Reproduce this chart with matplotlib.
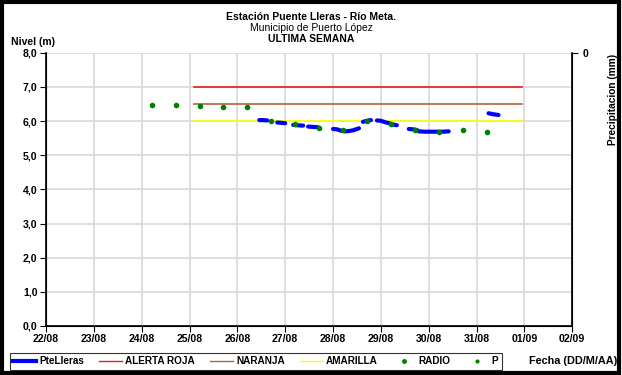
import numpy as np
import pandas as pd
import matplotlib
matplotlib.use("Agg")
import matplotlib.pyplot as plt
import matplotlib.dates as mdates
from matplotlib.lines import Line2D

plt.rcParams['font.family'] = ['Liberation Sans', 'DejaVu Sans']

ANIO = "2014"

# nivel telemetrico PteLleras (None / NaN = hueco en los datos)
tiempos_nivel = [
    "26/08 11:00", "26/08 13:00", "26/08 15:00", None,
    "26/08 20:00", "26/08 22:00", "27/08 00:00", None,
    "27/08 04:00", "27/08 06:00", "27/08 08:00", "27/08 09:00", None,
    "27/08 11:30", "27/08 14:00", "27/08 16:30", None,
    "28/08 00:00", "28/08 02:00", "28/08 04:00", "28/08 06:00", "28/08 08:00",
    "28/08 10:00", "28/08 12:00", "28/08 13:00", None,
    "28/08 15:00", "28/08 17:00", "28/08 19:00", None,
    "28/08 22:00", "29/08 00:00", "29/08 02:00", "29/08 04:00", "29/08 06:00",
    "29/08 08:00", None,
    "29/08 14:00", "29/08 16:00", "29/08 18:00", "29/08 19:00", "29/08 22:00",
    "30/08 01:00", "30/08 04:00", "30/08 07:00", "30/08 10:00", None,
    "31/08 06:00", "31/08 08:30", "31/08 11:00",
]
nivel = [
    6.03, 6.03, 6.02, np.nan,
    5.96, 5.95, 5.94, np.nan,
    5.89, 5.88, 5.87, 5.87, np.nan,
    5.84, 5.83, 5.82, np.nan,
    5.77, 5.76, 5.72, 5.70, 5.71, 5.73, 5.77, 5.79, np.nan,
    5.98, 6.01, 6.03, np.nan,
    6.02, 6.01, 5.97, 5.94, 5.90, 5.88, np.nan,
    5.77, 5.76, 5.74, 5.70, 5.69, 5.69, 5.69, 5.69, 5.70, np.nan,
    6.23, 6.20, 6.18,
]

# lecturas por radio
tiempos_radio = [
    "24/08 05:00", "24/08 17:00", "25/08 05:00", "25/08 17:00", "26/08 05:00",
    "26/08 17:00", "27/08 05:00", "27/08 17:00", "28/08 05:00", "28/08 17:00",
    "29/08 05:00", "29/08 17:00", "30/08 05:00", "30/08 17:00", "31/08 05:00",
]
radio = [6.48, 6.46, 6.44, 6.40, 6.40, 6.00, 5.91, 5.81, 5.73, 6.00,
         5.93, 5.74, 5.67, 5.74, 5.68]

# umbrales de alerta
tiempos_umbral = ["25/08 02:00", "31/08 23:00"]
alerta_roja = [7.0, 7.0]
naranja = [6.5, 6.5]
amarilla = [6.0, 6.0]

dias_eje = ["22/08", "23/08", "24/08", "25/08", "26/08", "27/08",
            "28/08", "29/08", "30/08", "31/08", "01/09", "02/09"]


def a_fecha(lista):
    return [pd.NaT if t is None else pd.to_datetime(t + "/" + ANIO, format="%d/%m %H:%M/%Y")
            for t in lista]


def a_dia(lista):
    return [pd.to_datetime(d + "/" + ANIO, format="%d/%m/%Y") for d in lista]


t_nivel = a_fecha(tiempos_nivel)
t_nivel = [t if not pd.isna(t) else t_nivel[i - 1] for i, t in enumerate(t_nivel)]
t_radio = a_fecha(tiempos_radio)
t_umbral = a_fecha(tiempos_umbral)
ticks = a_dia(dias_eje)

fig = plt.figure(figsize=(6.22, 3.75), dpi=100)
ax = fig.add_axes([0.074, 0.131, 0.846, 0.728])

ax.plot(t_umbral, alerta_roja, color='#ee1c1c', lw=1.2)
ax.plot(t_umbral, naranja, color='#b0663a', lw=1.2)
ax.plot(t_umbral, amarilla, color='#ffff00', lw=1.2)
ax.plot(t_nivel, nivel, color='#0000ff', lw=3, solid_capstyle='round')
ax.plot(t_radio, radio, 'o', color='#008000', ms=3, ls='none')

ax.set_ylim(0, 8)
ax.set_yticks(np.arange(0, 9, 1))
ax.set_yticklabels([f"{v:.1f}".replace('.', ',') for v in range(9)])
ax.set_xlim(ticks[0], ticks[-1])
ax.set_xticks(ticks)
ax.xaxis.set_major_formatter(mdates.DateFormatter('%d/%m'))
ax.grid(True, color='#d9d9d9', lw=1.2)
ax.set_axisbelow(True)
ax.spines['top'].set_visible(False)
ax.spines['left'].set_linewidth(1.2)
ax.spines['bottom'].set_linewidth(1.2)
ax.tick_params(axis='both', labelsize=7.6, length=4, width=0.8, pad=2)
for lab in ax.get_xticklabels() + ax.get_yticklabels():
    lab.set_fontweight('bold')

ax2 = ax.twinx()
ax2.plot([], [], 'o', color='#008000', ms=2)
ax2.set_ylim(1, 0)
ax2.set_yticks([0])
ax2.spines['top'].set_visible(False)
ax2.spines['right'].set_linewidth(1.2)
ax2.tick_params(axis='y', labelsize=7.6, length=4, width=0.8)
for lab in ax2.get_yticklabels():
    lab.set_fontweight('bold')

fig.text(0.5, 0.955, "Estación Puente Lleras - Río Meta.", ha='center', va='center',
         fontsize=7.5, fontweight='bold')
fig.text(0.5, 0.925, "Municipio de Puerto López", ha='center', va='center', fontsize=7.5)
fig.text(0.5, 0.897, "ULTIMA SEMANA", ha='center', va='center', fontsize=7.5,
         fontweight='bold')
fig.text(0.018, 0.888, "Nivel (m)", ha='left', va='center', fontsize=7.5, fontweight='bold')
fig.text(0.985, 0.735, "Precipitacion (mm)", ha='center', va='center', rotation=90,
         fontsize=7.3, fontweight='bold')
fig.text(0.993, 0.037, "Fecha (DD/M/AA)", ha='right', va='center', fontsize=7.8,
         fontweight='bold')

handles = [
    Line2D([], [], color='#0000ff', lw=3),
    Line2D([], [], color='#ee1c1c', lw=1),
    Line2D([], [], color='#b0663a', lw=1),
    Line2D([], [], color='#ffff00', lw=1),
    Line2D([], [], color='#008000', marker='o', ms=2.5, ls='none'),
    Line2D([], [], color='#008000', marker='o', ms=2, ls='none'),
]
etiquetas = ["PteLleras", "ALERTA ROJA", "NARANJA", "AMARILLA", "RADIO", "P"]
leg = fig.legend(handles, etiquetas, loc='center left', bbox_to_anchor=(0.016, 0.037),
                 ncol=6, fontsize=7.2, frameon=True, fancybox=False, edgecolor='black',
                 handlelength=2.3, columnspacing=1.5, handletextpad=0.3,
                 borderpad=0.35, borderaxespad=0)
leg.get_frame().set_linewidth(0.8)
for t in leg.get_texts():
    t.set_fontweight('bold')

borde = plt.Rectangle((0.003, 0.005), 0.992, 0.99, transform=fig.transFigure,
                      fill=False, edgecolor='black', lw=3)
fig.patches.append(borde)

fig.savefig("out.png", dpi=100)
